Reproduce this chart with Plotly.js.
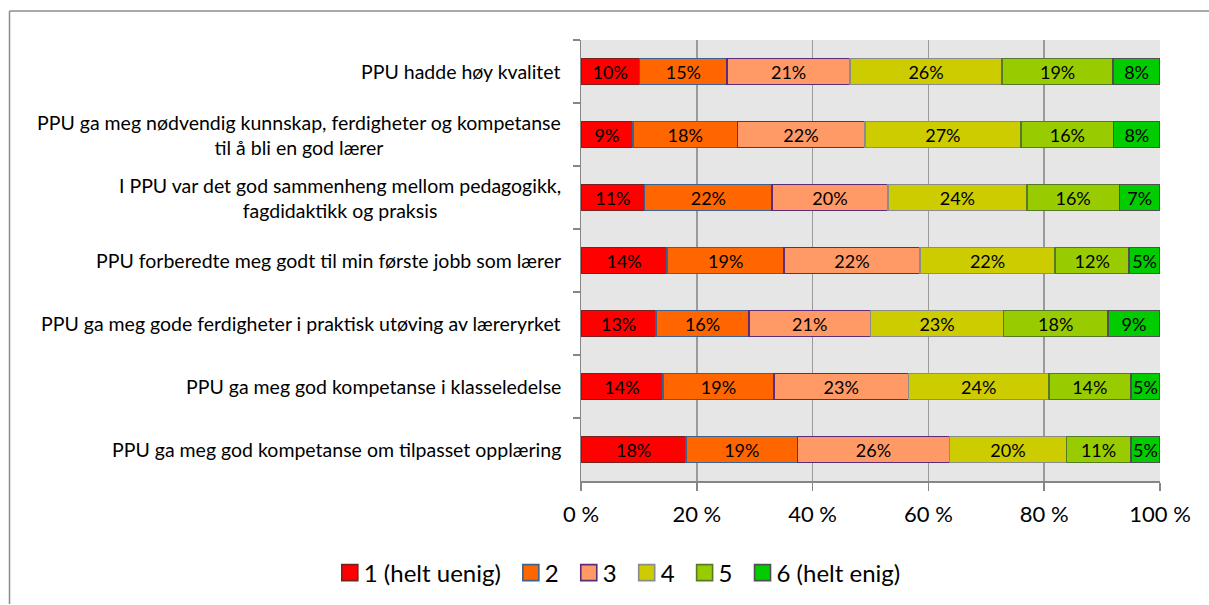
<!DOCTYPE html>
<html>
<head>
<meta charset="utf-8">
<script src="https://cdn.plot.ly/plotly-3.0.1.min.js"></script>
<style>html,body{margin:0;padding:0;background:#fff;overflow:hidden;}#chart{width:1209px;height:605px;overflow:hidden;}</style>
</head>
<body>
<div id="chart"></div>
<script>
const categories = [
  "PPU hadde høy kvalitet",
  "PPU ga meg nødvendig kunnskap, ferdigheter og kompetanse<br>til å bli en god lærer",
  "I PPU var det god sammenheng mellom pedagogikk,<br>fagdidaktikk og praksis",
  "PPU forberedte meg godt til min første jobb som lærer",
  "PPU ga meg gode ferdigheter i praktisk utøving av læreryrket",
  "PPU ga meg god kompetanse i klasseledelse",
  "PPU ga meg god kompetanse om tilpasset opplæring"
];
const seriesNames = ["1 (helt uenig)", "2", "3", "4", "5", "6 (helt enig)"];
const s1 = [10, 9, 11, 14, 13, 14, 18];
const s2 = [15, 18, 22, 19, 16, 19, 19];
const s3 = [21, 22, 20, 22, 21, 23, 26];
const s4 = [26, 27, 24, 22, 23, 24, 20];
const s5 = [19, 16, 16, 12, 18, 14, 11];
const s6 = [8, 8, 7, 5, 9, 5, 5];
const xTickVals = [0, 20, 40, 60, 80, 100];
const xTickText = ["0 %", "20 %", "40 %", "60 %", "80 %", "100 %"];

const series = [s1, s2, s3, s4, s5, s6];
const fills = ["#ff0000", "#ff6600", "#ff9966", "#cccc00", "#99cc00", "#00cc00"];
const borders = ["#7a2222", "#3d628f", "#5a2d7a", "#8c8c8c", "#557a2a", "#505050"];
const FONT = "Lato, 'Open Sans', sans-serif";

const traces = series.map((vals, i) => ({
  type: "bar",
  orientation: "h",
  name: seriesNames[i],
  y: categories,
  x: vals,
  text: vals.map(v => v + "%"),
  textposition: "inside",
  insidetextanchor: "middle",
  textangle: 0,
  textfont: {family: FONT, size: 18, color: "#000"},
  constraintext: "none",
  hoverinfo: "skip",
  width: 0.41,
  marker: {color: fills[i], line: {color: borders[i], width: 1.6}}
}));

const annotations = categories.map(c => ({
  x: 0, xref: "paper", y: c, yref: "y",
  text: c, showarrow: false, xanchor: "right", yanchor: "middle",
  align: "center", xshift: -18,
  font: {family: FONT, size: 19.5, color: "#000"}
}));

const W = 1209, L = 581, R = 49, T = 40, B = 124;
const pw = W - L - R, ph = 605 - T - B;
const px = v => (v - L) / pw;
const py = v => (605 - B - v) / ph;

const layout = {
  width: 1209, height: 605,
  margin: {l: L, r: R, t: T, b: B, pad: 0, autoexpand: false},
  paper_bgcolor: "#fff",
  plot_bgcolor: "#e6e6e6",
  barmode: "stack",
  barnorm: "percent",
  font: {family: FONT, color: "#000"},
  showlegend: true,
  legend: {
    orientation: "h", x: px(621), xanchor: "center", y: py(590), yanchor: "middle",
    font: {family: FONT, size: 24, color: "#000"},
    itemwidth: 30, traceorder: "normal", bgcolor: "rgba(0,0,0,0)", borderwidth: 0
  },
  xaxis: {
    range: [0, 100], tickvals: xTickVals, ticktext: xTickText,
    showgrid: true, gridcolor: "#9a9a9a", gridwidth: 1.5,
    showline: true, linecolor: "#868686", linewidth: 1.5,
    ticks: "outside", ticklen: 8, tickcolor: "#868686", tickwidth: 1.5,
    tickfont: {family: FONT, size: 22, color: "#000"},
    ticklabelstandoff: 5, automargin: false,
    zeroline: false, fixedrange: true
  },
  yaxis: {
    type: "category", autorange: "reversed",
    showticklabels: false, showgrid: false, automargin: false,
    showline: true, linecolor: "#868686", linewidth: 1.5,
    ticks: "outside", ticklen: 7, tickcolor: "#868686", tickwidth: 1.5,
    tickson: "boundaries", zeroline: false, fixedrange: true
  },
  annotations: annotations,
  shapes: [
    {type: "line", xref: "paper", yref: "paper", x0: px(9.5), x1: px(1209), y0: py(11), y1: py(11),
     line: {color: "#8c8c8c", width: 1.5}, layer: "below"},
    {type: "line", xref: "paper", yref: "paper", x0: px(9.5), x1: px(9.5), y0: py(11), y1: py(604),
     line: {color: "#8c8c8c", width: 1.5}, layer: "below"}
  ]
};

// Tighten legend entries like the reference: square right next to its label.
function tightenLegend(gd) {
  const legend = gd.querySelector("g.legend");
  if (!legend) return;
  const scroll = legend.querySelector("g.scrollbox");
  if (scroll) scroll.removeAttribute("clip-path");
  const items = Array.from(legend.querySelectorAll("g.traces"));
  const SQ = 16, TEXTGAP = 6, ITEMGAP = 22;
  let x = 0, y0 = null;
  items.forEach(g => {
    const m = /translate\(([-\d.]+)[ ,]+([-\d.]+)\)/.exec(g.getAttribute("transform") || "");
    const yy = m ? parseFloat(m[2]) : 0;
    if (y0 === null) y0 = yy;
    const path = g.querySelector("g.legendpoints path");
    if (path) {
      path.setAttribute("d", "M8,8H-8V-8H8Z");
      path.setAttribute("transform", "translate(" + (SQ / 2) + ",0)");
    }
    const t = g.querySelector("text.legendtext");
    let tw = 0;
    if (t) {
      t.setAttribute("x", SQ + TEXTGAP);
      tw = t.getComputedTextLength();
    }
    const bg = g.querySelector("rect.legendtoggle");
    if (bg) bg.setAttribute("width", SQ + TEXTGAP + tw);
    g.setAttribute("transform", "translate(" + x + "," + y0 + ")");
    x += SQ + TEXTGAP + tw + ITEMGAP;
  });
  const total = x - ITEMGAP;
  const m = /translate\(([-\d.]+)[ ,]+([-\d.]+)\)/.exec(legend.getAttribute("transform") || "");
  const ly = m ? parseFloat(m[2]) : 0;
  legend.setAttribute("transform", "translate(" + (621 - total / 2) + "," + ly + ")");
}

Plotly.newPlot("chart", traces, layout, {displayModeBar: false, staticPlot: true})
  .then(gd => tightenLegend(gd));
</script>
</body>
</html>
